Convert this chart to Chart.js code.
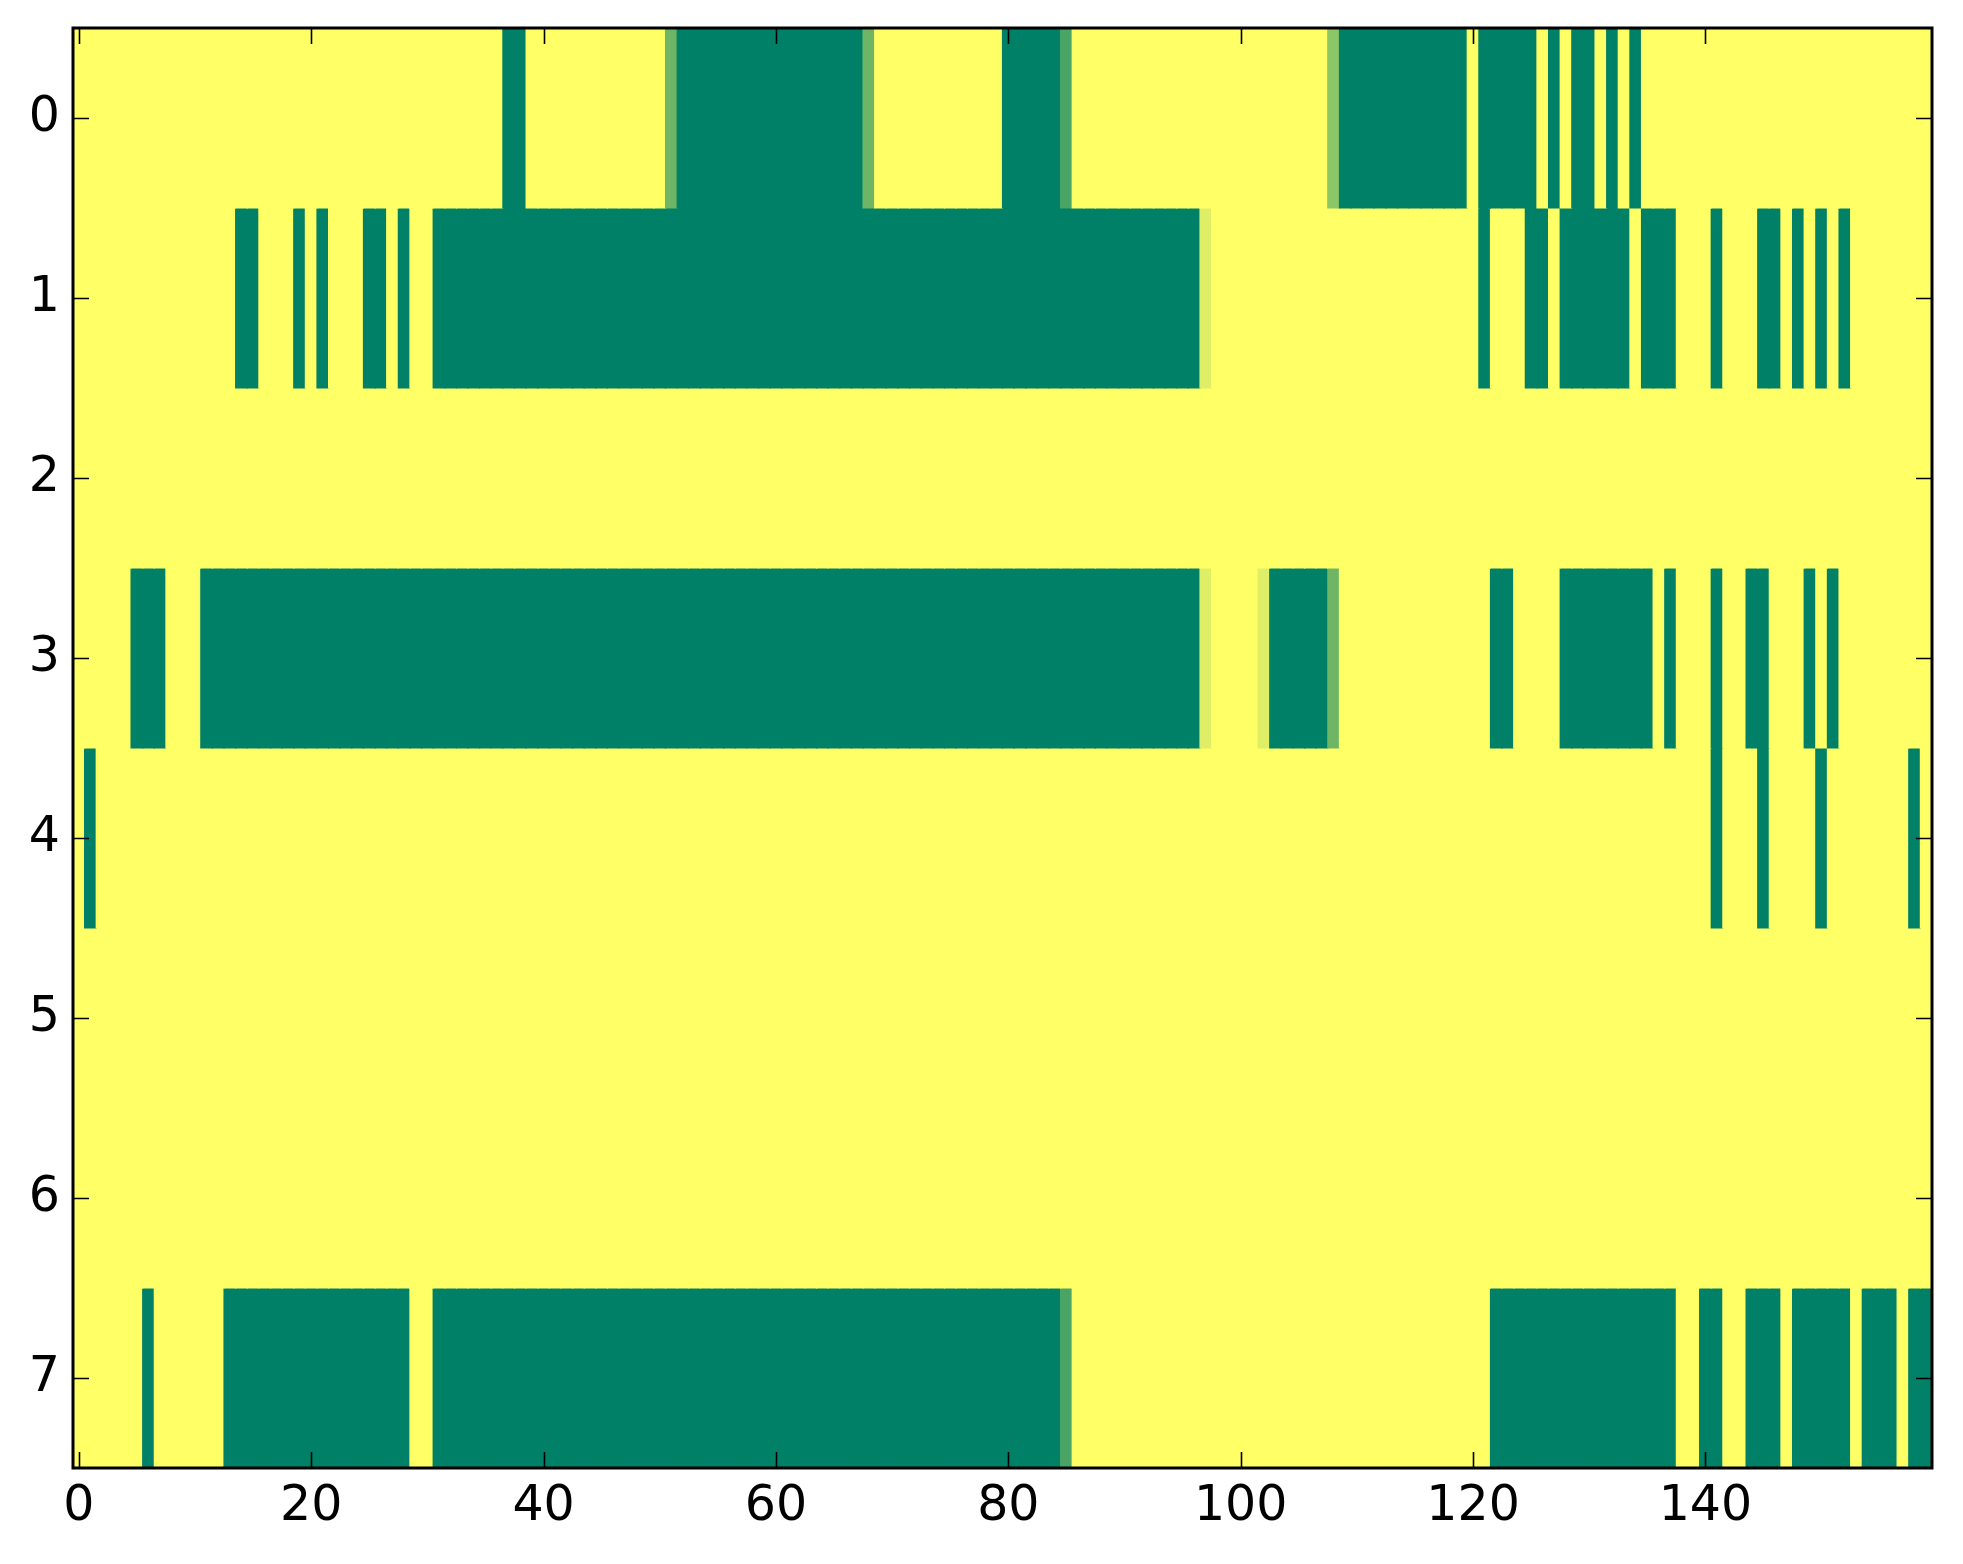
<!DOCTYPE html>
<html>
<head>
<meta charset="utf-8">
<script src="https://cdn.jsdelivr.net/npm/chart.js@4.4.1/dist/chart.umd.min.js"></script>
<style>
html,body{margin:0;padding:0;background:#fff;}
canvas{display:block;}
</style>
</head>
<body>
<canvas id="c" width="1963" height="1564"></canvas>
<script>
// ---- data (1 = yellow, 0 = green) ----
const rowLabels = [0, 1, 2, 3, 4, 5, 6, 7];
const xTickValues = [0, 20, 40, 60, 80, 100, 120, 140];

const row0 = [
  1,1,1,1,1,1,1,1,1,1,
  1,1,1,1,1,1,1,1,1,1,
  1,1,1,1,1,1,1,1,1,1,
  1,1,1,1,1,1,1,0,0,1,
  1,1,1,1,1,1,1,1,1,1,
  1,0.43,0,0,0,0,0,0,0,0,
  0,0,0,0,0,0,0,0,0.43,1,
  1,1,1,1,1,1,1,1,1,1,
  0,0,0,0,0,0.29,1,1,1,1,
  1,1,1,1,1,1,1,1,1,1,
  1,1,1,1,1,1,1,1,0.55,0,
  0,0,0,0,0,0,0,0,0,0,
  1,0,0,0,0,0,1,0,1,0,
  0,1,0,1,0,1,1,1,1,1,
  1,1,1,1,1,1,1,1,1,1,
  1,1,1,1,1,1,1,1,1,1
];
const row1 = [
  1,1,1,1,1,1,1,1,1,1,
  1,1,1,1,0,0,1,1,1,0,
  1,0,1,1,1,0,0,1,0,1,
  1,0,0,0,0,0,0,0,0,0,
  0,0,0,0,0,0,0,0,0,0,
  0,0,0,0,0,0,0,0,0,0,
  0,0,0,0,0,0,0,0,0,0,
  0,0,0,0,0,0,0,0,0,0,
  0,0,0,0,0,0,0,0,0,0,
  0,0,0,0,0,0,0,0.87,1,1,
  1,1,1,1,1,1,1,1,1,1,
  1,1,1,1,1,1,1,1,1,1,
  1,0,1,1,1,0,0,1,0,0,
  0,0,0,0,1,0,0,0,1,1,
  1,0,1,1,1,0,0,1,0,1,
  0,1,0,1,1,1,1,1,1,1
];
const row2 = [
  1,1,1,1,1,1,1,1,1,1,
  1,1,1,1,1,1,1,1,1,1,
  1,1,1,1,1,1,1,1,1,1,
  1,1,1,1,1,1,1,1,1,1,
  1,1,1,1,1,1,1,1,1,1,
  1,1,1,1,1,1,1,1,1,1,
  1,1,1,1,1,1,1,1,1,1,
  1,1,1,1,1,1,1,1,1,1,
  1,1,1,1,1,1,1,1,1,1,
  1,1,1,1,1,1,1,1,1,1,
  1,1,1,1,1,1,1,1,1,1,
  1,1,1,1,1,1,1,1,1,1,
  1,1,1,1,1,1,1,1,1,1,
  1,1,1,1,1,1,1,1,1,1,
  1,1,1,1,1,1,1,1,1,1,
  1,1,1,1,1,1,1,1,1,1
];
const row3 = [
  1,1,1,1,1,0,0,0,1,1,
  1,0,0,0,0,0,0,0,0,0,
  0,0,0,0,0,0,0,0,0,0,
  0,0,0,0,0,0,0,0,0,0,
  0,0,0,0,0,0,0,0,0,0,
  0,0,0,0,0,0,0,0,0,0,
  0,0,0,0,0,0,0,0,0,0,
  0,0,0,0,0,0,0,0,0,0,
  0,0,0,0,0,0,0,0,0,0,
  0,0,0,0,0,0,0,0.87,1,1,
  1,1,0.87,0,0,0,0,0,0.43,1,
  1,1,1,1,1,1,1,1,1,1,
  1,1,0,0,1,1,1,1,0,0,
  0,0,0,0,0,0,1,0,1,1,
  1,0,1,1,0,0,1,1,1,0,
  1,0,1,1,1,1,1,1,1,1
];
const row4 = [
  1,0,1,1,1,1,1,1,1,1,
  1,1,1,1,1,1,1,1,1,1,
  1,1,1,1,1,1,1,1,1,1,
  1,1,1,1,1,1,1,1,1,1,
  1,1,1,1,1,1,1,1,1,1,
  1,1,1,1,1,1,1,1,1,1,
  1,1,1,1,1,1,1,1,1,1,
  1,1,1,1,1,1,1,1,1,1,
  1,1,1,1,1,1,1,1,1,1,
  1,1,1,1,1,1,1,1,1,1,
  1,1,1,1,1,1,1,1,1,1,
  1,1,1,1,1,1,1,1,1,1,
  1,1,1,1,1,1,1,1,1,1,
  1,1,1,1,1,1,1,1,1,1,
  1,0,1,1,1,0,1,1,1,1,
  0,1,1,1,1,1,1,1,0,1
];
const row5 = [
  1,1,1,1,1,1,1,1,1,1,
  1,1,1,1,1,1,1,1,1,1,
  1,1,1,1,1,1,1,1,1,1,
  1,1,1,1,1,1,1,1,1,1,
  1,1,1,1,1,1,1,1,1,1,
  1,1,1,1,1,1,1,1,1,1,
  1,1,1,1,1,1,1,1,1,1,
  1,1,1,1,1,1,1,1,1,1,
  1,1,1,1,1,1,1,1,1,1,
  1,1,1,1,1,1,1,1,1,1,
  1,1,1,1,1,1,1,1,1,1,
  1,1,1,1,1,1,1,1,1,1,
  1,1,1,1,1,1,1,1,1,1,
  1,1,1,1,1,1,1,1,1,1,
  1,1,1,1,1,1,1,1,1,1,
  1,1,1,1,1,1,1,1,1,1
];
const row6 = [
  1,1,1,1,1,1,1,1,1,1,
  1,1,1,1,1,1,1,1,1,1,
  1,1,1,1,1,1,1,1,1,1,
  1,1,1,1,1,1,1,1,1,1,
  1,1,1,1,1,1,1,1,1,1,
  1,1,1,1,1,1,1,1,1,1,
  1,1,1,1,1,1,1,1,1,1,
  1,1,1,1,1,1,1,1,1,1,
  1,1,1,1,1,1,1,1,1,1,
  1,1,1,1,1,1,1,1,1,1,
  1,1,1,1,1,1,1,1,1,1,
  1,1,1,1,1,1,1,1,1,1,
  1,1,1,1,1,1,1,1,1,1,
  1,1,1,1,1,1,1,1,1,1,
  1,1,1,1,1,1,1,1,1,1,
  1,1,1,1,1,1,1,1,1,1
];
const row7 = [
  1,1,1,1,1,1,0,1,1,1,
  1,1,1,0,0,0,0,0,0,0,
  0,0,0,0,0,0,0,0,0,1,
  1,0,0,0,0,0,0,0,0,0,
  0,0,0,0,0,0,0,0,0,0,
  0,0,0,0,0,0,0,0,0,0,
  0,0,0,0,0,0,0,0,0,0,
  0,0,0,0,0,0,0,0,0,0,
  0,0,0,0,0,0.29,1,1,1,1,
  1,1,1,1,1,1,1,1,1,1,
  1,1,1,1,1,1,1,1,1,1,
  1,1,1,1,1,1,1,1,1,1,
  1,1,0,0,0,0,0,0,0,0,
  0,0,0,0,0,0,0,0,1,1,
  0,0,1,1,0,0,0,1,0,0,
  0,0,0,1,0,0,0,1,0,0
];
const rows = [row0, row1, row2, row3, row4, row5, row6, row7];

// ---- "summer" colour map ----
function summer(v) {
  const r = Math.round(255 * v);
  const g = Math.round(255 * (0.5 + 0.5 * v));
  return 'rgb(' + r + ',' + g + ',102)';
}

const datasets = rows.map((vals, r) => ({
  data: vals.map((v, c) => ({ x: c, y: [rowLabels[r] - 0.5, rowLabels[r] + 0.5] })),
  backgroundColor: vals.map(summer),
  borderWidth: 0,
  inflateAmount: 0.6,
  barPercentage: 1.0,
  categoryPercentage: 1.0,
  grouped: false
}));

const FONT = { family: 'DejaVu Sans', size: 49 };

const framePlugin = {
  id: 'frame',
  afterDraw(chart) {
    const { ctx, chartArea: a, scales } = chart;
    ctx.save();
    ctx.strokeStyle = '#000';
    ctx.lineWidth = 1.6;
    const tl = 16;
    ctx.beginPath();
    scales.x.ticks.forEach(t => {
      const px = Math.round(scales.x.getPixelForValue(t.value)) + 0.5;
      ctx.moveTo(px, a.bottom); ctx.lineTo(px, a.bottom - tl);
      ctx.moveTo(px, a.top); ctx.lineTo(px, a.top + tl);
    });
    scales.y.ticks.forEach(t => {
      const py = Math.round(scales.y.getPixelForValue(t.value)) + 0.5;
      ctx.moveTo(a.left, py); ctx.lineTo(a.left + tl, py);
      ctx.moveTo(a.right, py); ctx.lineTo(a.right - tl, py);
    });
    ctx.stroke();
    ctx.lineWidth = 3;
    ctx.strokeRect(a.left, a.top, a.right - a.left, a.bottom - a.top);
    ctx.restore();
  }
};

function zeroPad(s) {
  s.paddingTop = 0; s.paddingBottom = 0; s.paddingLeft = 0; s.paddingRight = 0;
}

new Chart(document.getElementById('c'), {
  type: 'bar',
  data: { datasets },
  options: {
    responsive: false,
    devicePixelRatio: 1,
    animation: false,
    events: [],
    layout: { padding: { left: 0, top: 28, right: 31, bottom: 0 } },
    plugins: { legend: { display: false }, tooltip: { enabled: false } },
    scales: {
      x: {
        type: 'linear',
        offset: false,
        min: -0.5,
        max: 159.5,
        grid: { display: false, drawTicks: false },
        border: { display: false },
        afterBuildTicks: s => { s.ticks = xTickValues.map(v => ({ value: v })); },
        afterFit: s => { s.height = 96; zeroPad(s); },
        ticks: { font: FONT, color: '#000', padding: 10, maxRotation: 0, autoSkip: false }
      },
      y: {
        type: 'linear',
        reverse: true,
        min: -0.5,
        max: 7.5,
        grid: { display: false, drawTicks: false },
        border: { display: false },
        afterBuildTicks: s => { s.ticks = rowLabels.map(v => ({ value: v })); },
        afterFit: s => { s.width = 73; zeroPad(s); },
        ticks: { font: FONT, color: '#000', padding: 13, autoSkip: false }
      }
    }
  },
  plugins: [framePlugin]
});
</script>
</body>
</html>
